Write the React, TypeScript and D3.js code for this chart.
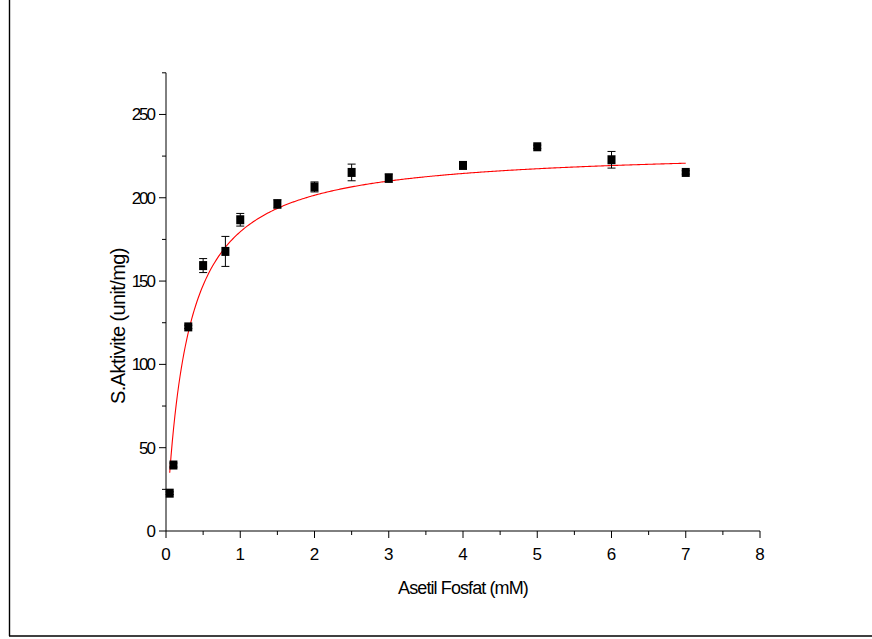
import React from 'react';
import * as d3 from 'd3';

// Substrate concentrations (mM) and measured specific activities (unit/mg)
const concentrations = [0.05, 0.1, 0.3, 0.5, 0.8, 1, 1.5, 2, 2.5, 3, 4, 5, 6, 7];
const activities = [22.7, 39.6, 122.5, 159.3, 167.8, 186.8, 196.3, 206.5, 215.2, 211.8, 219.4, 230.6, 222.8, 215.2];
const errors = [0.8, 1.2, 1.0, 4.2, 9.0, 3.8, 2.5, 3.0, 5.0, 2.5, 1.0, 1.0, 5.0, 1.0];

// Tick values
const xTicks = [0, 1, 2, 3, 4, 5, 6, 7, 8];
const xMinorTicks = [0.5, 1.5, 2.5, 3.5, 4.5, 5.5, 6.5, 7.5];
const yTicks = [0, 50, 100, 150, 200, 250];
const yMinorTicks = [25, 75, 125, 175, 225, 275];

// Michaelis–Menten fit parameters
const fitVmax = 229.5;
const fitKm = 0.278;
const fitRange = [0.05, 7];

const W = 872;
const H = 639;

export default function App() {
  const x = d3.scaleLinear().domain([0, 8]).range([166, 760]);
  const y = d3.scaleLinear().domain([0, 275]).range([531, 72.8]);

  const fitPoints: [number, number][] = d3
    .range(0, 401)
    .map((i) => fitRange[0] + ((fitRange[1] - fitRange[0]) * i) / 400)
    .map((s) => [s, (fitVmax * s) / (fitKm + s)]);

  const line = d3
    .line<[number, number]>()
    .x((d) => x(d[0]))
    .y((d) => y(d[1]))
    .curve(d3.curveLinear);

  const font = "'Liberation Sans', Arial, sans-serif";
  const x0 = x(0);
  const y0 = y(0);

  return (
    <svg
      width={W}
      height={H}
      style={{ position: 'absolute', left: 0, top: 0, background: '#fff' }}
    >
      <rect x={0} y={0} width={W} height={H} fill="#fff" />
      {/* page frame */}
      <line x1={9.5} y1={0} x2={9.5} y2={636} stroke="#000" strokeWidth={1.4} />
      <line x1={9} y1={636} x2={W} y2={636} stroke="#000" strokeWidth={1.4} />

      {/* axes */}
      <line x1={x0} y1={y(275)} x2={x0} y2={y0} stroke="#000" strokeWidth={1} />
      <line x1={x0} y1={y0} x2={x(8)} y2={y0} stroke="#000" strokeWidth={1} />

      {xTicks.map((t) => (
        <g key={'xt' + t}>
          <line x1={x(t)} y1={y0} x2={x(t)} y2={y0 + 7} stroke="#000" strokeWidth={1} />
          <text
            x={x(t)}
            y={560}
            textAnchor="middle"
            fontFamily={font}
            fontSize={17}
          >
            {t}
          </text>
        </g>
      ))}
      {xMinorTicks.map((t) => (
        <line key={'xm' + t} x1={x(t)} y1={y0} x2={x(t)} y2={y0 + 4} stroke="#000" strokeWidth={1} />
      ))}

      {yTicks.map((t) => (
        <g key={'yt' + t}>
          <line x1={x0 - 7} y1={y(t)} x2={x0} y2={y(t)} stroke="#000" strokeWidth={1} />
          <text
            x={154}
            y={y(t) + 6}
            textAnchor="end"
            fontFamily={font}
            fontSize={17}
            letterSpacing={-2}
          >
            {t}
          </text>
        </g>
      ))}
      {yMinorTicks.map((t) => (
        <line key={'ym' + t} x1={x0 - 4} y1={y(t)} x2={x0} y2={y(t)} stroke="#000" strokeWidth={1} />
      ))}

      {/* fitted curve */}
      <path d={line(fitPoints) || ''} fill="none" stroke="#ff0000" strokeWidth={1.1} />

      {/* error bars */}
      {concentrations.map((c, i) => {
        const cx = x(c);
        const top = y(activities[i] + errors[i]);
        const bot = y(activities[i] - errors[i]);
        return (
          <g key={'e' + i} stroke="#000" strokeWidth={1}>
            <line x1={cx} y1={top} x2={cx} y2={bot} />
            <line x1={cx - 4} y1={top} x2={cx + 4} y2={top} />
            <line x1={cx - 4} y1={bot} x2={cx + 4} y2={bot} />
          </g>
        );
      })}

      {/* data markers */}
      {concentrations.map((c, i) => (
        <rect
          key={'m' + i}
          x={x(c) - 4}
          y={y(activities[i]) - 4.5}
          width={8}
          height={9}
          fill="#000"
        />
      ))}

      {/* axis titles */}
      <text
        x={(x(0) + x(8)) / 2}
        y={594}
        textAnchor="middle"
        fontFamily={font}
        fontSize={18}
        letterSpacing={-0.9}
      >
        Asetil Fosfat (mM)
      </text>
      <text
        transform={`translate(125, 326) rotate(-90)`}
        textAnchor="middle"
        fontFamily={font}
        fontSize={20}
        letterSpacing={-0.6}
      >
        S.Aktivite (unit/mg)
      </text>
    </svg>
  );
}
